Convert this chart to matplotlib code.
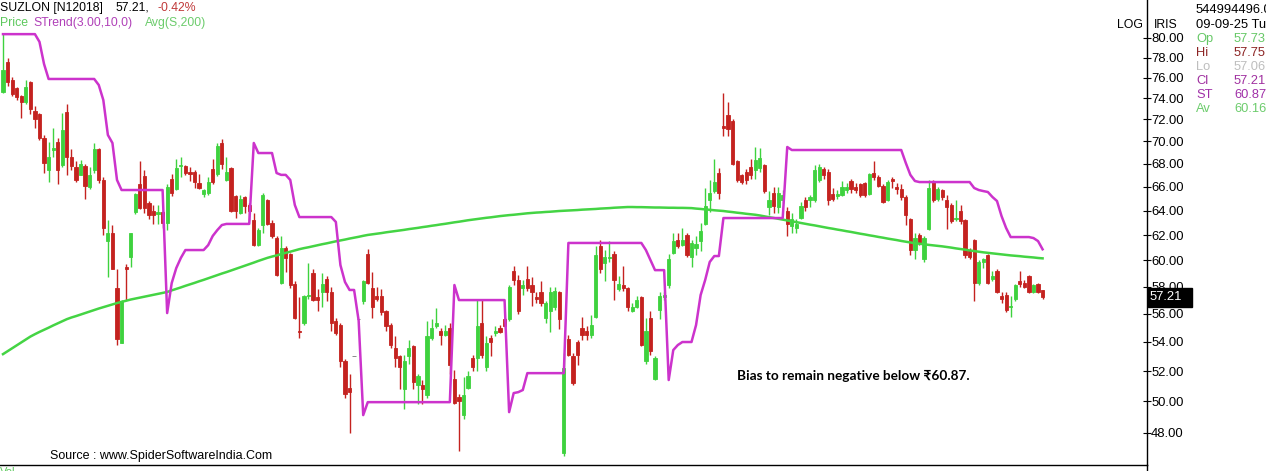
import matplotlib
matplotlib.use('Agg')
import matplotlib.pyplot as plt
from matplotlib.patches import Rectangle
from matplotlib.lines import Line2D

plt.rcParams['font.family'] = ['Liberation Sans', 'DejaVu Sans']

# ---- data (SUZLON daily) ----
opens = [
    74.6, 77.6, 75.8, 75.0, 74.2, 73.6, 75.6, 72.8, 72.5, 70.3,
    67.4, 69.2, 69.9, 67.9, 72.7, 68.6, 67.7, 67.0, 67.8, 66.0,
    67.4, 69.3, 66.6, 61.5, 62.2, 57.9, 53.9, 59.5, 60.3, 63.9,
    66.2, 66.9, 64.6, 64.0, 63.7, 63.9, 63.0, 66.7, 65.8, 67.8,
    67.8, 67.3, 67.3, 66.3, 65.4, 65.5, 67.5, 67.1, 69.8, 66.6,
    67.6, 65.2, 63.8, 65.1, 64.5, 63.2, 61.2, 62.8, 64.9, 63.0,
    61.8, 58.3, 61.0, 60.5, 58.2, 54.8, 55.3, 57.3, 59.0, 57.2,
    57.6, 58.6, 57.6, 55.5, 55.2, 52.7, 50.9, 53.0, 55.6, 56.9,
    60.5, 57.9, 57.3, 57.3, 56.2, 55.2, 53.6, 53.0, 50.8, 53.0,
    53.7, 51.1, 51.1, 50.4, 54.3, 55.1, 54.8, 54.5, 55.0, 51.5,
    50.3, 49.1, 50.9, 52.9, 52.9, 55.3, 52.3, 54.3, 54.6, 55.0,
    55.6, 55.6, 59.2, 58.5, 57.9, 58.6, 58.1, 57.2, 57.6, 55.7,
    56.2, 56.5, 57.6, 46.8, 54.2, 53.0, 54.0, 55.0, 54.8, 54.5,
    55.8, 61.1, 59.8, 60.2, 60.5, 57.8, 58.1, 57.9, 56.2, 56.5,
    57.2, 52.7, 55.7, 51.5, 56.3, 57.2, 58.1, 60.6, 61.6, 61.2,
    62.0, 60.3, 61.0, 61.5, 62.9, 64.9, 65.6, 67.2, 71.4, 72.4,
    71.9, 68.2, 67.0, 67.3, 67.7, 67.4, 67.6, 67.9, 64.3, 65.5,
    64.3, 64.9, 64.0, 62.7, 62.6, 63.4, 64.9, 64.9, 64.9, 66.6,
    67.5, 67.3, 65.4, 65.2, 65.3, 65.7, 66.5, 66.0, 66.2, 66.3,
    65.4, 67.2, 66.8, 66.1, 64.9, 66.7, 66.0, 65.8, 65.1, 63.3,
    60.8, 62.0, 60.1, 62.5, 66.5, 65.0, 65.7, 64.9, 64.5, 63.3,
    64.0, 63.2, 60.8, 61.6, 58.3, 59.9, 60.4, 58.6, 59.2, 57.3,
    57.4, 56.5, 57.1, 58.4, 58.3, 58.8, 57.6, 58.2, 57.73,
]
highs = [
    80.5, 78.0, 76.1, 75.1, 74.3, 75.8, 75.7, 73.3, 72.6, 70.6,
    69.9, 71.2, 70.3, 72.6, 73.5, 69.3, 68.2, 68.3, 68.0, 67.7,
    69.8, 69.4, 66.8, 63.2, 62.8, 59.3, 57.0, 59.7, 62.2, 65.5,
    68.2, 67.4, 64.8, 64.5, 64.5, 64.0, 66.2, 67.1, 68.4, 68.6,
    67.9, 67.7, 67.4, 67.1, 65.8, 66.8, 68.4, 69.8, 70.2, 68.6,
    67.7, 65.3, 65.3, 65.2, 64.6, 63.8, 62.6, 65.5, 65.0, 63.2,
    61.9, 61.9, 61.1, 60.6, 58.4, 57.2, 57.4, 59.8, 59.3, 57.8,
    59.0, 58.8, 58.0, 55.7, 55.3, 52.8, 51.8, 53.0, 55.6, 58.5,
    60.9, 59.1, 58.0, 57.8, 56.3, 55.3, 54.4, 53.1, 53.1, 54.1,
    53.8, 51.8, 51.4, 55.5, 55.6, 56.4, 55.0, 55.2, 55.3, 52.1,
    50.5, 51.6, 52.0, 53.1, 57.0, 57.0, 54.4, 54.5, 55.1, 55.2,
    55.7, 58.1, 59.6, 58.9, 58.5, 59.6, 58.7, 57.6, 58.4, 56.9,
    58.0, 58.0, 57.7, 53.2, 54.5, 53.2, 54.1, 55.8, 55.1, 55.9,
    61.1, 61.6, 60.8, 61.5, 60.7, 58.8, 59.6, 58.0, 56.8, 57.3,
    57.3, 55.7, 56.2, 53.0, 57.6, 57.6, 60.5, 62.2, 62.2, 62.6,
    62.2, 61.6, 61.9, 63.0, 65.9, 66.6, 68.4, 67.6, 74.5, 73.6,
    72.0, 68.3, 67.1, 67.5, 68.4, 69.5, 69.4, 68.0, 65.6, 66.0,
    66.0, 65.7, 64.3, 63.8, 63.3, 64.7, 65.1, 65.3, 67.9, 68.0,
    67.7, 67.5, 65.9, 65.7, 66.5, 66.3, 66.7, 66.3, 66.3, 66.4,
    67.2, 68.2, 67.0, 66.2, 66.6, 66.8, 66.3, 66.2, 65.3, 63.4,
    62.2, 62.2, 61.9, 66.6, 66.6, 66.0, 65.8, 65.3, 64.6, 64.9,
    64.5, 63.3, 61.0, 61.7, 60.0, 60.2, 60.5, 59.2, 59.3, 57.6,
    57.6, 57.3, 58.2, 59.2, 58.5, 58.9, 58.2, 58.3, 57.75,
]
lows = [
    74.5, 75.2, 74.2, 73.8, 72.1, 73.5, 72.5, 71.2, 70.1, 67.2,
    66.4, 68.6, 66.2, 67.7, 67.0, 67.4, 66.4, 67.0, 65.0, 65.8,
    67.2, 66.3, 62.0, 58.7, 59.3, 53.8, 53.9, 57.0, 59.5, 63.7,
    64.1, 63.8, 63.3, 62.9, 62.9, 62.6, 62.4, 65.2, 65.7, 66.8,
    67.0, 66.5, 65.9, 65.8, 65.1, 65.3, 66.2, 66.9, 67.5, 66.5,
    63.9, 63.4, 63.7, 63.8, 63.2, 61.1, 61.1, 62.2, 62.8, 61.8,
    58.8, 58.2, 59.1, 57.9, 55.6, 54.3, 55.2, 57.1, 56.9, 56.2,
    56.5, 56.9, 54.8, 54.5, 52.3, 50.2, 48.0, 53.0, 55.6, 56.7,
    58.2, 55.7, 56.9, 55.9, 54.8, 53.6, 52.3, 50.8, 49.5, 52.5,
    50.8, 49.8, 49.8, 50.2, 54.1, 55.0, 53.8, 54.4, 51.8, 49.8,
    46.9, 48.9, 50.8, 52.0, 52.0, 52.9, 52.0, 53.0, 54.4, 54.6,
    55.0, 55.5, 58.1, 56.0, 57.4, 57.7, 56.6, 56.8, 56.6, 55.3,
    54.7, 56.3, 54.9, 46.6, 53.0, 51.1, 52.4, 54.1, 54.1, 54.3,
    55.7, 59.0, 58.4, 59.9, 57.0, 57.7, 57.7, 56.2, 56.1, 56.4,
    53.7, 52.5, 53.1, 51.4, 55.6, 57.0, 57.9, 60.5, 61.0, 61.1,
    60.3, 59.5, 60.4, 60.7, 62.8, 63.9, 65.5, 65.0, 70.5, 70.5,
    67.9, 66.4, 66.2, 66.2, 66.7, 66.7, 67.3, 65.5, 63.6, 63.8,
    63.8, 64.6, 61.9, 62.2, 62.2, 63.3, 64.0, 64.3, 64.7, 66.4,
    66.7, 64.5, 64.8, 65.0, 65.2, 65.5, 65.5, 65.5, 65.1, 65.1,
    65.3, 66.6, 66.0, 64.6, 64.8, 65.9, 65.4, 64.9, 62.8, 60.4,
    60.1, 61.2, 59.9, 62.4, 64.7, 64.8, 64.9, 62.5, 63.0, 63.1,
    62.9, 60.2, 60.1, 56.9, 58.1, 59.4, 58.2, 58.4, 57.5, 56.8,
    56.1, 55.8, 56.9, 58.0, 57.9, 57.5, 57.5, 57.5, 57.06,
]
closes = [
    76.8, 75.6, 74.4, 74.1, 73.6, 75.1, 73.0, 72.0, 70.3, 68.1,
    68.6, 69.4, 67.4, 71.0, 68.6, 67.8, 66.6, 68.0, 66.1, 67.0,
    69.3, 66.6, 62.6, 62.2, 59.3, 54.2, 56.9, 59.3, 62.2, 65.4,
    64.2, 64.2, 63.6, 63.6, 63.9, 63.0, 66.0, 65.5, 67.6, 67.9,
    67.2, 67.1, 66.4, 65.9, 65.7, 66.4, 66.4, 69.6, 68.0, 67.3,
    64.0, 64.0, 65.0, 64.4, 64.0, 61.2, 62.4, 65.3, 62.9, 61.9,
    58.9, 61.0, 60.2, 58.1, 55.7, 54.7, 57.3, 57.4, 57.0, 57.0,
    58.2, 57.6, 55.3, 54.6, 52.7, 50.5, 50.6, 53.0, 55.6, 58.4,
    58.3, 56.5, 57.1, 56.1, 55.1, 53.8, 52.9, 52.3, 52.7, 53.6,
    51.3, 51.7, 50.8, 54.4, 55.0, 55.3, 54.5, 54.8, 52.4, 49.9,
    50.0, 50.4, 51.7, 52.3, 55.1, 53.1, 53.9, 54.0, 54.8, 54.7,
    55.1, 58.0, 58.5, 56.2, 58.1, 57.9, 57.6, 57.1, 56.8, 56.8,
    57.6, 57.7, 55.6, 52.2, 53.1, 51.2, 53.1, 54.5, 54.5, 55.2,
    60.4, 59.3, 60.3, 60.3, 58.5, 58.2, 57.9, 56.5, 56.5, 57.0,
    53.8, 54.8, 53.4, 52.9, 57.3, 57.4, 60.1, 61.5, 61.1, 61.6,
    60.4, 61.4, 61.3, 62.3, 64.4, 65.5, 66.4, 65.5, 71.2, 71.1,
    68.0, 66.6, 66.4, 66.6, 67.0, 68.3, 68.5, 65.6, 64.9, 64.4,
    65.5, 65.3, 62.9, 63.3, 62.9, 64.4, 64.3, 65.1, 67.4, 67.7,
    67.0, 64.9, 65.0, 65.4, 66.0, 66.0, 65.8, 65.7, 65.3, 65.3,
    67.1, 66.8, 66.1, 64.7, 66.4, 66.5, 65.8, 65.1, 63.6, 60.8,
    61.8, 61.4, 61.8, 65.9, 64.9, 65.8, 65.1, 64.3, 63.1, 63.4,
    63.1, 60.4, 60.3, 58.3, 59.9, 60.1, 58.3, 58.8, 57.6, 57.1,
    56.3, 56.6, 58.1, 58.2, 58.0, 57.6, 58.1, 57.6, 57.21,
]
# SuperTrend(3,10) values
strend = [
    80.4, 80.4, 80.4, 80.4, 80.4, 80.4, 80.4, 80.4, 79.6, 77.35,
    75.87, 75.87, 75.87, 75.87, 75.87, 75.87, 75.87, 75.87, 75.87, 75.87,
    75.87, 75.28, 73.83, 70.57, 69.84, 66.58, 65.72, 65.72, 65.72, 65.72,
    65.72, 65.72, 65.72, 65.72, 65.72, 65.72, 56.05, 58.27, 59.41, 60.19,
    60.81, 60.81, 60.81, 60.81, 60.81, 61.20, 61.93, 62.40, 62.81, 62.90,
    62.90, 62.90, 62.90, 62.90, 62.90, 69.84, 68.94, 68.94, 68.94, 68.94,
    67.18, 67.02, 67.02, 66.58, 64.46, 63.46, 63.46, 63.46, 63.46, 63.46,
    63.46, 63.46, 63.46, 63.06, 59.64, 58.35, 57.75, 57.75, 55.50, 49.12,
    49.95, 49.95, 49.95, 49.95, 49.95, 49.95, 49.95, 49.95, 49.95, 49.95,
    49.95, 49.95, 49.95, 49.95, 49.95, 49.95, 49.95, 49.95, 49.95, 58.12,
    57.00, 57.00, 57.00, 57.00, 57.00, 57.00, 57.00, 57.00, 57.00, 57.00,
    57.00, 49.31, 50.54, 50.60, 50.74, 51.86, 51.86, 51.86, 51.86, 51.86,
    51.86, 51.86, 51.86, 51.86, 61.37, 61.37, 61.37, 61.37, 61.37, 61.37,
    61.37, 61.37, 61.37, 61.37, 61.37, 61.37, 61.37, 61.37, 61.37, 61.37,
    61.37, 60.81, 60.03, 59.25, 59.25, 59.25, 51.40, 53.43, 53.78, 53.99,
    53.99, 53.99, 55.19, 57.37, 58.50, 59.88, 60.34, 60.34, 63.38, 63.38,
    63.38, 63.38, 63.38, 63.38, 63.38, 63.38, 63.38, 63.38, 63.38, 63.38,
    63.38, 63.38, 69.48, 69.21, 69.21, 69.21, 69.21, 69.21, 69.21, 69.21,
    69.21, 69.21, 69.21, 69.21, 69.21, 69.21, 69.21, 69.21, 69.21, 69.21,
    69.21, 69.21, 69.21, 69.21, 69.21, 69.21, 69.21, 69.21, 68.06, 67.02,
    66.49, 66.40, 66.40, 66.40, 66.40, 66.40, 66.40, 66.40, 66.40, 66.40,
    66.40, 66.40, 66.40, 65.89, 65.72, 65.63, 65.55, 65.13, 64.79, 63.54,
    62.57, 61.84, 61.84, 61.84, 61.84, 61.84, 61.76, 61.52, 60.87,
]
# 200-day simple moving average
avg200 = [
    53.15, 53.35, 53.55, 53.76, 53.96, 54.16, 54.37, 54.54, 54.70, 54.85,
    55.00, 55.16, 55.31, 55.46, 55.61, 55.73, 55.83, 55.94, 56.05, 56.16,
    56.27, 56.38, 56.48, 56.58, 56.68, 56.78, 56.87, 56.95, 57.04, 57.11,
    57.18, 57.25, 57.32, 57.39, 57.46, 57.53, 57.60, 57.72, 57.83, 57.94,
    58.06, 58.17, 58.28, 58.40, 58.51, 58.63, 58.75, 58.87, 58.99, 59.10,
    59.22, 59.34, 59.46, 59.59, 59.71, 59.83, 59.96, 60.08, 60.20, 60.30,
    60.39, 60.49, 60.59, 60.68, 60.78, 60.88, 60.96, 61.03, 61.11, 61.19,
    61.27, 61.34, 61.42, 61.50, 61.57, 61.64, 61.72, 61.79, 61.86, 61.94,
    62.01, 62.06, 62.11, 62.16, 62.22, 62.27, 62.32, 62.37, 62.42, 62.48,
    62.53, 62.58, 62.64, 62.69, 62.75, 62.80, 62.86, 62.91, 62.97, 63.03,
    63.08, 63.14, 63.20, 63.25, 63.30, 63.35, 63.40, 63.44, 63.49, 63.54,
    63.58, 63.62, 63.65, 63.69, 63.73, 63.77, 63.80, 63.83, 63.85, 63.88,
    63.90, 63.93, 63.96, 63.98, 64.00, 64.02, 64.04, 64.07, 64.09, 64.11,
    64.13, 64.16, 64.18, 64.20, 64.23, 64.25, 64.27, 64.29, 64.29, 64.28,
    64.28, 64.27, 64.26, 64.25, 64.25, 64.24, 64.23, 64.23, 64.22, 64.22,
    64.21, 64.20, 64.16, 64.13, 64.09, 64.06, 64.02, 63.99, 63.96, 63.91,
    63.87, 63.82, 63.78, 63.73, 63.69, 63.65, 63.59, 63.52, 63.45, 63.39,
    63.32, 63.25, 63.18, 63.11, 63.04, 62.98, 62.91, 62.84, 62.78, 62.71,
    62.64, 62.57, 62.51, 62.44, 62.38, 62.31, 62.25, 62.18, 62.11, 62.05,
    61.98, 61.92, 61.85, 61.79, 61.72, 61.66, 61.60, 61.53, 61.47, 61.41,
    61.35, 61.31, 61.27, 61.22, 61.18, 61.14, 61.10, 61.05, 61.00, 60.94,
    60.89, 60.84, 60.78, 60.73, 60.68, 60.63, 60.59, 60.55, 60.51, 60.47,
    60.43, 60.39, 60.36, 60.33, 60.29, 60.26, 60.23, 60.19, 60.16,
]
price_ticks = [48, 50, 52, 54, 56, 58, 60, 62, 64, 66, 68, 70, 72, 74, 76, 78, 80]

assert len(opens) == len(highs) == len(lows) == len(closes) == len(strend) == len(avg200)

RED = '#C4221F'
GREEN = '#3ED23E'
MAGENTA = '#CC33CC'
AVG_GREEN = '#44D444'

W, H = 1266, 471
fig = plt.figure(figsize=(W / 100, H / 100), dpi=100)


def fx(x):
    return x / W


def fy(y):
    return 1 - y / H


ax = fig.add_axes([0, fy(465), fx(1147), 465 / H])
ax.set_yscale('log')
ax.set_ylim(46.05, 84.03)
ax.set_xlim(-0.66, 250.9)

idx = list(range(len(closes)))
cols = []
for o, c in zip(opens, closes):
    if c > o:
        cols.append(GREEN)
    elif c < o:
        cols.append(RED)
    else:
        cols.append('#777777')

bottoms = [min(o, c) for o, c in zip(opens, closes)]
heights = [abs(c - o) for o, c in zip(opens, closes)]

ax.vlines(idx, lows, highs, colors=cols, linewidth=1.0, zorder=2)
ax.bar(idx, heights, bottom=bottoms, width=0.7, color=cols,
       edgecolor=cols, linewidth=0.6, zorder=3)

ax.plot(idx, avg200, color=AVG_GREEN, linewidth=1.8, zorder=4)
ax.plot(idx, strend, color=MAGENTA, linewidth=1.8, zorder=5)

# axis styling
for s in ['left', 'top']:
    ax.spines[s].set_visible(False)
ax.spines['right'].set_linewidth(1.0)
ax.spines['bottom'].set_linewidth(1.0)
ax.set_xticks([])
ax.yaxis.tick_right()
ax.set_yticks(price_ticks)
ax.yaxis.set_minor_locator(plt.NullLocator())
ax.set_yticklabels(['%.2f' % t for t in price_ticks])
ax.tick_params(axis='y', direction='inout', length=6, width=0.8,
               labelsize=9.4, pad=0, colors='black')

# continue the price axis line to the bottom edge
fig.add_artist(Line2D([fx(1147), fx(1147)], [0, fy(465)], color='black',
                      linewidth=1.0, transform=fig.transFigure))

# last price tag
yd = ax.transData.transform((0, closes[-1]))[1]
yfig = fig.transFigure.inverted().transform((0, yd))[1]
fig.add_artist(Rectangle((fx(1148), yfig - 9.5 / H), 44 / W, 19 / H,
                         transform=fig.transFigure, facecolor='black',
                         edgecolor='black'))
fig.text(fx(1150), yfig, '%.2f' % closes[-1], color='white', fontsize=9.4,
         va='center', ha='left')

# header texts
fig.text(fx(0), fy(8), 'SUZLON [N12018]', fontsize=8.8, va='center')
fig.text(fx(115), fy(8), '57.21,', fontsize=8.8, va='center')
fig.text(fx(158), fy(8), '-0.42%', fontsize=8.8, va='center', color='#C03A3A')
fig.text(fx(0), fy(23), 'Price', fontsize=8.8, va='center', color='#5CC85C')
fig.text(fx(33), fy(23), 'STrend(3.00,10,0)', fontsize=8.8, va='center', color='#B040B8')
fig.text(fx(145), fy(23), 'Avg(S,200)', fontsize=8.8, va='center', color='#6CCC6C')

fig.text(fx(1143), fy(25), 'LOG', fontsize=8.8, va='center', ha='right')
fig.text(fx(1154), fy(25), 'IRIS', fontsize=8.8, va='center')
fig.text(fx(1196), fy(10), '544994496.0', fontsize=9.3, va='center')
fig.text(fx(1196), fy(25), '09-09-25 Tue', fontsize=9.3, va='center')

info_rows = [('Op', '57.73', '#66C866'), ('Hi', '57.75', '#8C2424'),
             ('Lo', '57.06', '#BEBEBE'), ('Cl', '57.21', '#A030A0'),
             ('ST', '60.87', '#A030A8'), ('Av', '60.16', '#6CCC6C')]
for k, (lab, val, c) in enumerate(info_rows):
    yy = 39 + k * 14
    fig.text(fx(1196), fy(yy), lab, fontsize=9.3, va='center', color=c)
    fig.text(fx(1234), fy(yy), val, fontsize=9.3, va='center', color=c)

fig.text(fx(737), fy(376), 'Bias to remain negative below \u20b960.87.',
         fontsize=9.8, fontweight='bold', va='center',
         family=['Lato', 'DejaVu Sans'])
fig.text(fx(50), fy(456), 'Source : www.SpiderSoftwareIndia.Com',
         fontsize=9, va='center')
fig.text(fx(0), fy(472), 'Vol', fontsize=8, va='center', color='#5CC85C')

fig.savefig('out.png', dpi=100, facecolor='white')
